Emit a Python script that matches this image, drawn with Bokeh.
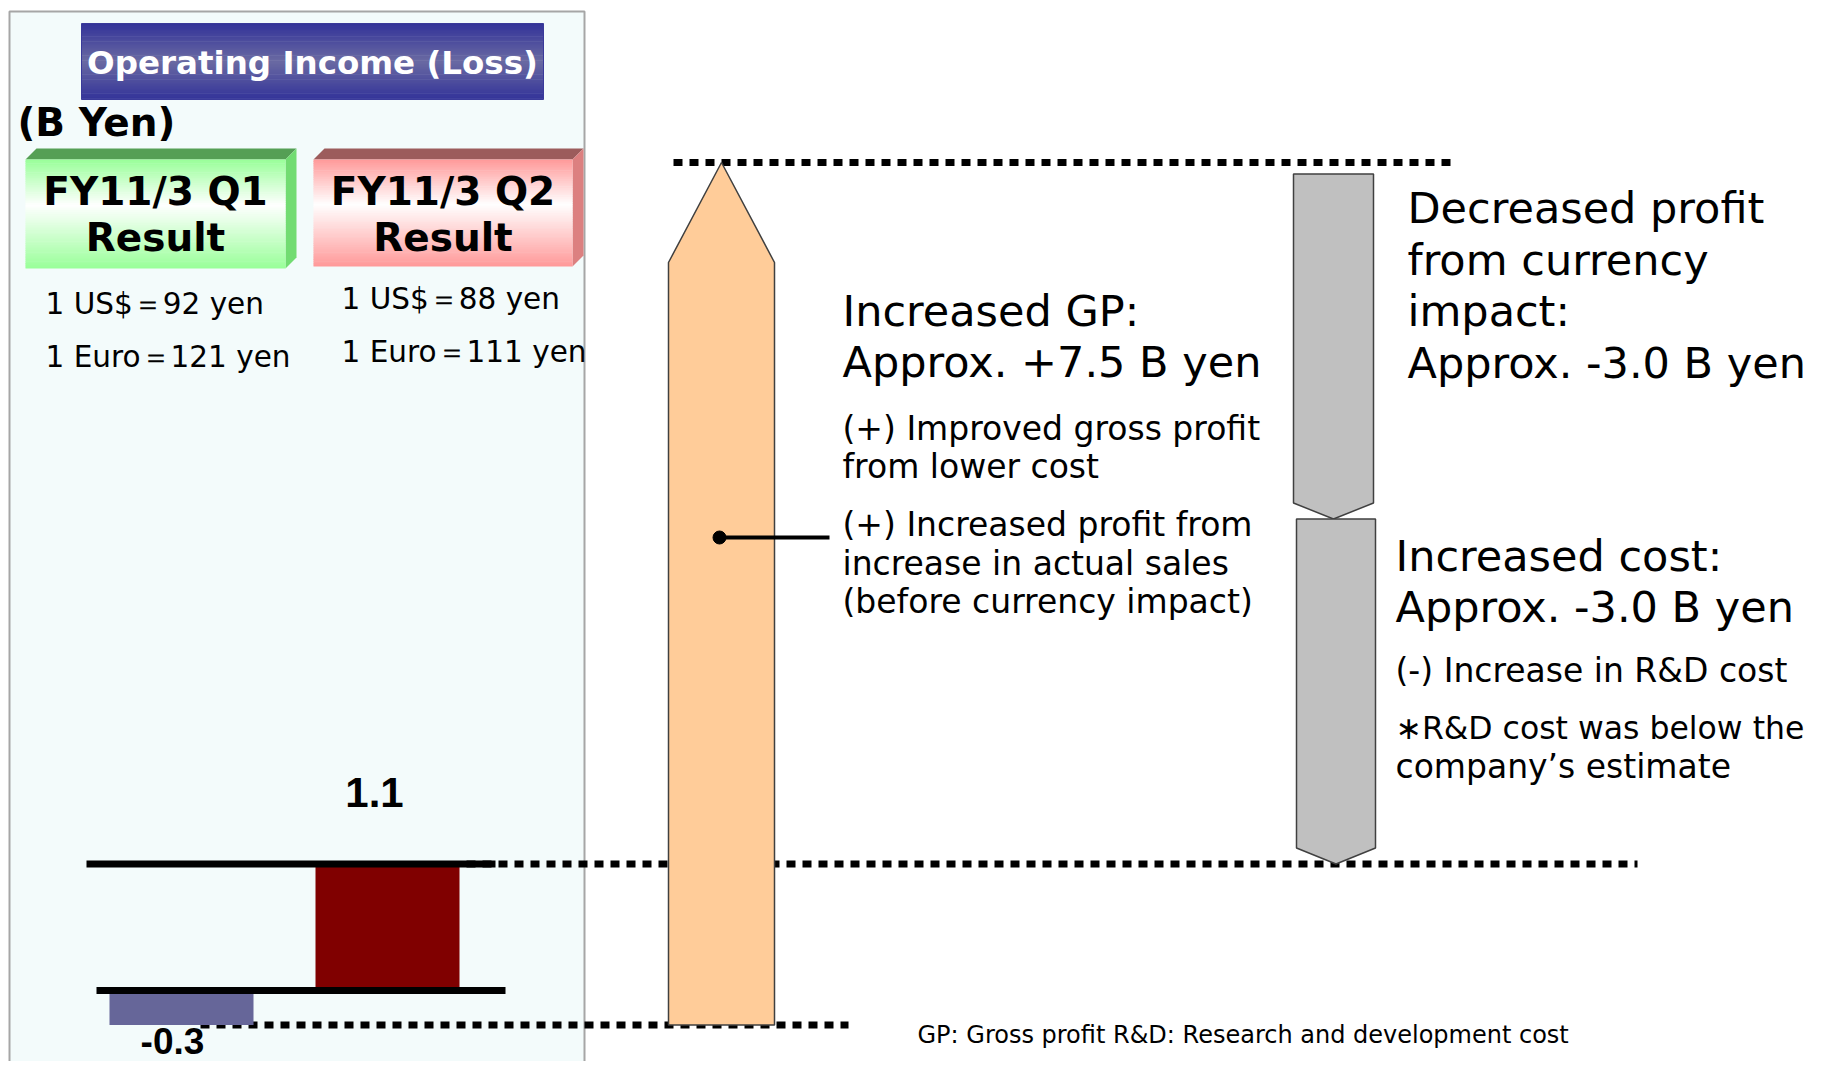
from bokeh.plotting import figure
from bokeh.models import Range1d
from bokeh.embed import file_html
from bokeh.resources import INLINE
from bokeh.core.properties import value

# ---------------- data ----------------
periods = ["FY11/3 Q1", "FY11/3 Q2"]
op_income = [-0.3, 1.1]              # B yen
op_labels = ["-0.3", "1.1"]
usd_rates = [92, 88]
eur_rates = [121, 111]
bridge_names = ["Increased GP", "Currency impact", "Increased cost"]
bridge_values = [7.5, -3.0, -3.0]     # B yen

# ---------------- layout ----------------
W, H = 1811, 1061
Z, K = 990.0, 115.0   # pixel y of zero, px per B yen

p = figure(width=W, height=H, output_backend="svg", toolbar_location=None,
           x_range=Range1d(0, W),
           y_range=Range1d((Z - H) / K, Z / K),
           min_border=0, background_fill_color="white")
p.extra_y_ranges = {"px": Range1d(start=H, end=0)}
p.axis.visible = False
p.xgrid.visible = False
p.ygrid.visible = False
p.outline_line_color = None

FONT = value("DejaVu Sans")
NUMF = value("Liberation Sans")


def hex2rgb(h):
    h = h.lstrip("#")
    return [int(h[i:i + 2], 16) for i in (0, 2, 4)]


def mix(c1, c2, t):
    a, b = hex2rgb(c1), hex2rgb(c2)
    return "#%02x%02x%02x" % tuple(int(round(x + (y - x) * t)) for x, y in zip(a, b))


def gradient(x0, x1, y0, y1, ctop, cmid, cbot, midpos=0.5, n=60):
    lefts, rights, tops, bots, cols = [], [], [], [], []
    for i in range(n):
        t0 = y0 + (y1 - y0) * i / n
        t1 = y0 + (y1 - y0) * (i + 1) / n
        f = (i + 0.5) / n
        if f < midpos:
            c = mix(ctop, cmid, f / midpos)
        else:
            c = mix(cmid, cbot, (f - midpos) / (1 - midpos))
        lefts.append(x0); rights.append(x1); tops.append(t0)
        bots.append(min(t1 + 0.6, y1)); cols.append(c)
    p.quad(left=lefts, right=rights, top=tops, bottom=bots, fill_color=cols,
           line_color=None, y_range_name="px")


def txt(x, y, s, size, color="black", bold=False, align="left", base="middle", font=FONT):
    p.text(x=[x], y=[y], text=[s], text_font=font, text_font_size=f"{size}px",
           text_font_style="bold" if bold else "normal", text_color=color,
           text_align=align, text_baseline=base, y_range_name="px")


# ---------------- left panel ----------------
p.quad(left=[9], right=[584], top=[11], bottom=[H + 5], fill_color="#F3FBFB",
       line_color="#A6A6A6", line_width=2, y_range_name="px")

# title box
gradient(81, 543, 23, 99, "#333399", "#6A6AA2", "#333399", midpos=0.5)
p.quad(left=[81], right=[543], top=[23], bottom=[99], fill_color=None,
       line_color="#3A3A9A", line_width=1, y_range_name="px")
txt(312, 62, "Operating Income (Loss)", 32.5, color="white", bold=True, align="center")
txt(17, 122, "(B Yen)", 39, bold=True)

# period boxes (3D look)
boxes = [
    dict(x0=25, x1=285, top=159, bot=268, c="#99FF99", ctop="#559F55", cside="#72DC72"),
    dict(x0=313, x1=572, top=159, bot=266, c="#FF9999", ctop="#9C5C5C", cside="#DC8080"),
]
D = 11
for b, name in zip(boxes, periods):
    p.patch(x=[b["x0"], b["x0"] + D, b["x1"] + D, b["x1"]],
            y=[b["top"], b["top"] - D, b["top"] - D, b["top"]],
            fill_color=b["ctop"], line_color=None, y_range_name="px")
    p.patch(x=[b["x1"], b["x1"] + D, b["x1"] + D, b["x1"]],
            y=[b["top"], b["top"] - D, b["bot"] - D, b["bot"]],
            fill_color=b["cside"], line_color=None, y_range_name="px")
    gradient(b["x0"], b["x1"], b["top"], b["bot"], b["c"], "#FFFFFF", b["c"], midpos=0.42)
    cx = (b["x0"] + b["x1"]) / 2
    txt(cx, b["top"] + 32, name, 39, bold=True, align="center")
    txt(cx, b["top"] + 78, "Result", 39, bold=True, align="center")

rate_pos = [(45, 303, 356), (341, 298, 351)]
for (x, yu, ye), u, e in zip(rate_pos, usd_rates, eur_rates):
    txt(x, yu, f"1 US$\uff1d{u} yen", 29.5)
    txt(x, ye, f"1 Euro\uff1d{e} yen", 29.5)

# ---------------- waterfall levels ----------------
start = op_income[0]
gp_top = start + bridge_values[0]
end = op_income[1]
# decreases drawn back from the Q2 result
dec_levels = [end]
for v in reversed(bridge_values[1:]):
    dec_levels.insert(0, dec_levels[0] - v)   # [7.1, 4.1, 1.1]

dot = dict(line_color="black", line_width=7, line_dash="9 7", line_cap="butt")
p.line(x=[673, 1451], y=[gp_top, gp_top], **dot)
p.line(x=[466, 1637], y=[end, end], **dot)
p.line(x=[200, 848], y=[start, start], **dot)

# ---------------- bars ----------------
bar_x = [(109, 253), (315, 459)]
bar_colors = ["#666699", "#800000"]
p.quad(left=[a for a, b in bar_x], right=[b for a, b in bar_x],
       top=[max(v, 0) for v in op_income], bottom=[min(v, 0) for v in op_income],
       fill_color=bar_colors, line_color=None)
p.line(x=[86, 495], y=[op_income[1], op_income[1]], line_color="black", line_width=7)
p.line(x=[96, 505], y=[0, 0], line_color="black", line_width=7)
txt(374, 792, op_labels[1], 42, bold=True, align="center", font=NUMF)
txt(172, 1040, op_labels[0], 37, bold=True, align="center", font=NUMF)

# ---------------- bridge arrows ----------------
tip_up = 100 / K
ox0, ox1 = 668, 774
oxc = (ox0 + ox1) / 2
p.patch(x=[ox0, ox0, oxc, ox1, ox1], y=[start, gp_top - tip_up, gp_top, gp_top - tip_up, start],
        fill_color="#FFCC99", line_color="#404040", line_width=1.5)

tip_dn = 16 / K
grey_x = [(1293, 1373), (1296, 1375)]
for (gx0, gx1), a, b in zip(grey_x, dec_levels[:-1], dec_levels[1:]):
    gxc = (gx0 + gx1) / 2
    p.patch(x=[gx0, gx1, gx1, gxc, gx0], y=[a, a, b + tip_dn, b, b + tip_dn],
            fill_color="#C0C0C0", line_color="#404040", line_width=1.5)

# connector
p.line(x=[719, 829], y=[537, 537], line_color="black", line_width=4, y_range_name="px")
p.scatter(x=[719], y=[537], size=13, marker="circle", fill_color="black",
          line_color="black", y_range_name="px")

# ---------------- annotations ----------------
txt(842, 310, "Increased GP:", 43)
txt(842, 361, "Approx. +7.5 B yen", 43)
txt(842, 428, "(+) Improved gross profit", 33)
txt(842, 466, "from lower cost", 33)
txt(842, 524, "(+) Increased profit from", 33)
txt(842, 563, "increase in actual sales", 33)
txt(842, 601, "(before currency impact)", 33)

txt(1407, 207, "Decreased profit", 43)
txt(1407, 259, "from currency", 43)
txt(1407, 310, "impact:", 43)
txt(1407, 362, "Approx. -3.0 B yen", 43)

txt(1395, 555, "Increased cost:", 43)
txt(1395, 606, "Approx. -3.0 B yen", 43)
txt(1395, 670, "(-) Increase in R&D cost", 33)
txt(1395, 727, "\u2217R&D cost was below the", 31.5)
txt(1395, 766, "company\u2019s estimate", 33)

txt(917, 1034, "GP: Gross profit R&D: Research and development cost", 24)

open("out.html", "w").write(file_html(p, INLINE))
